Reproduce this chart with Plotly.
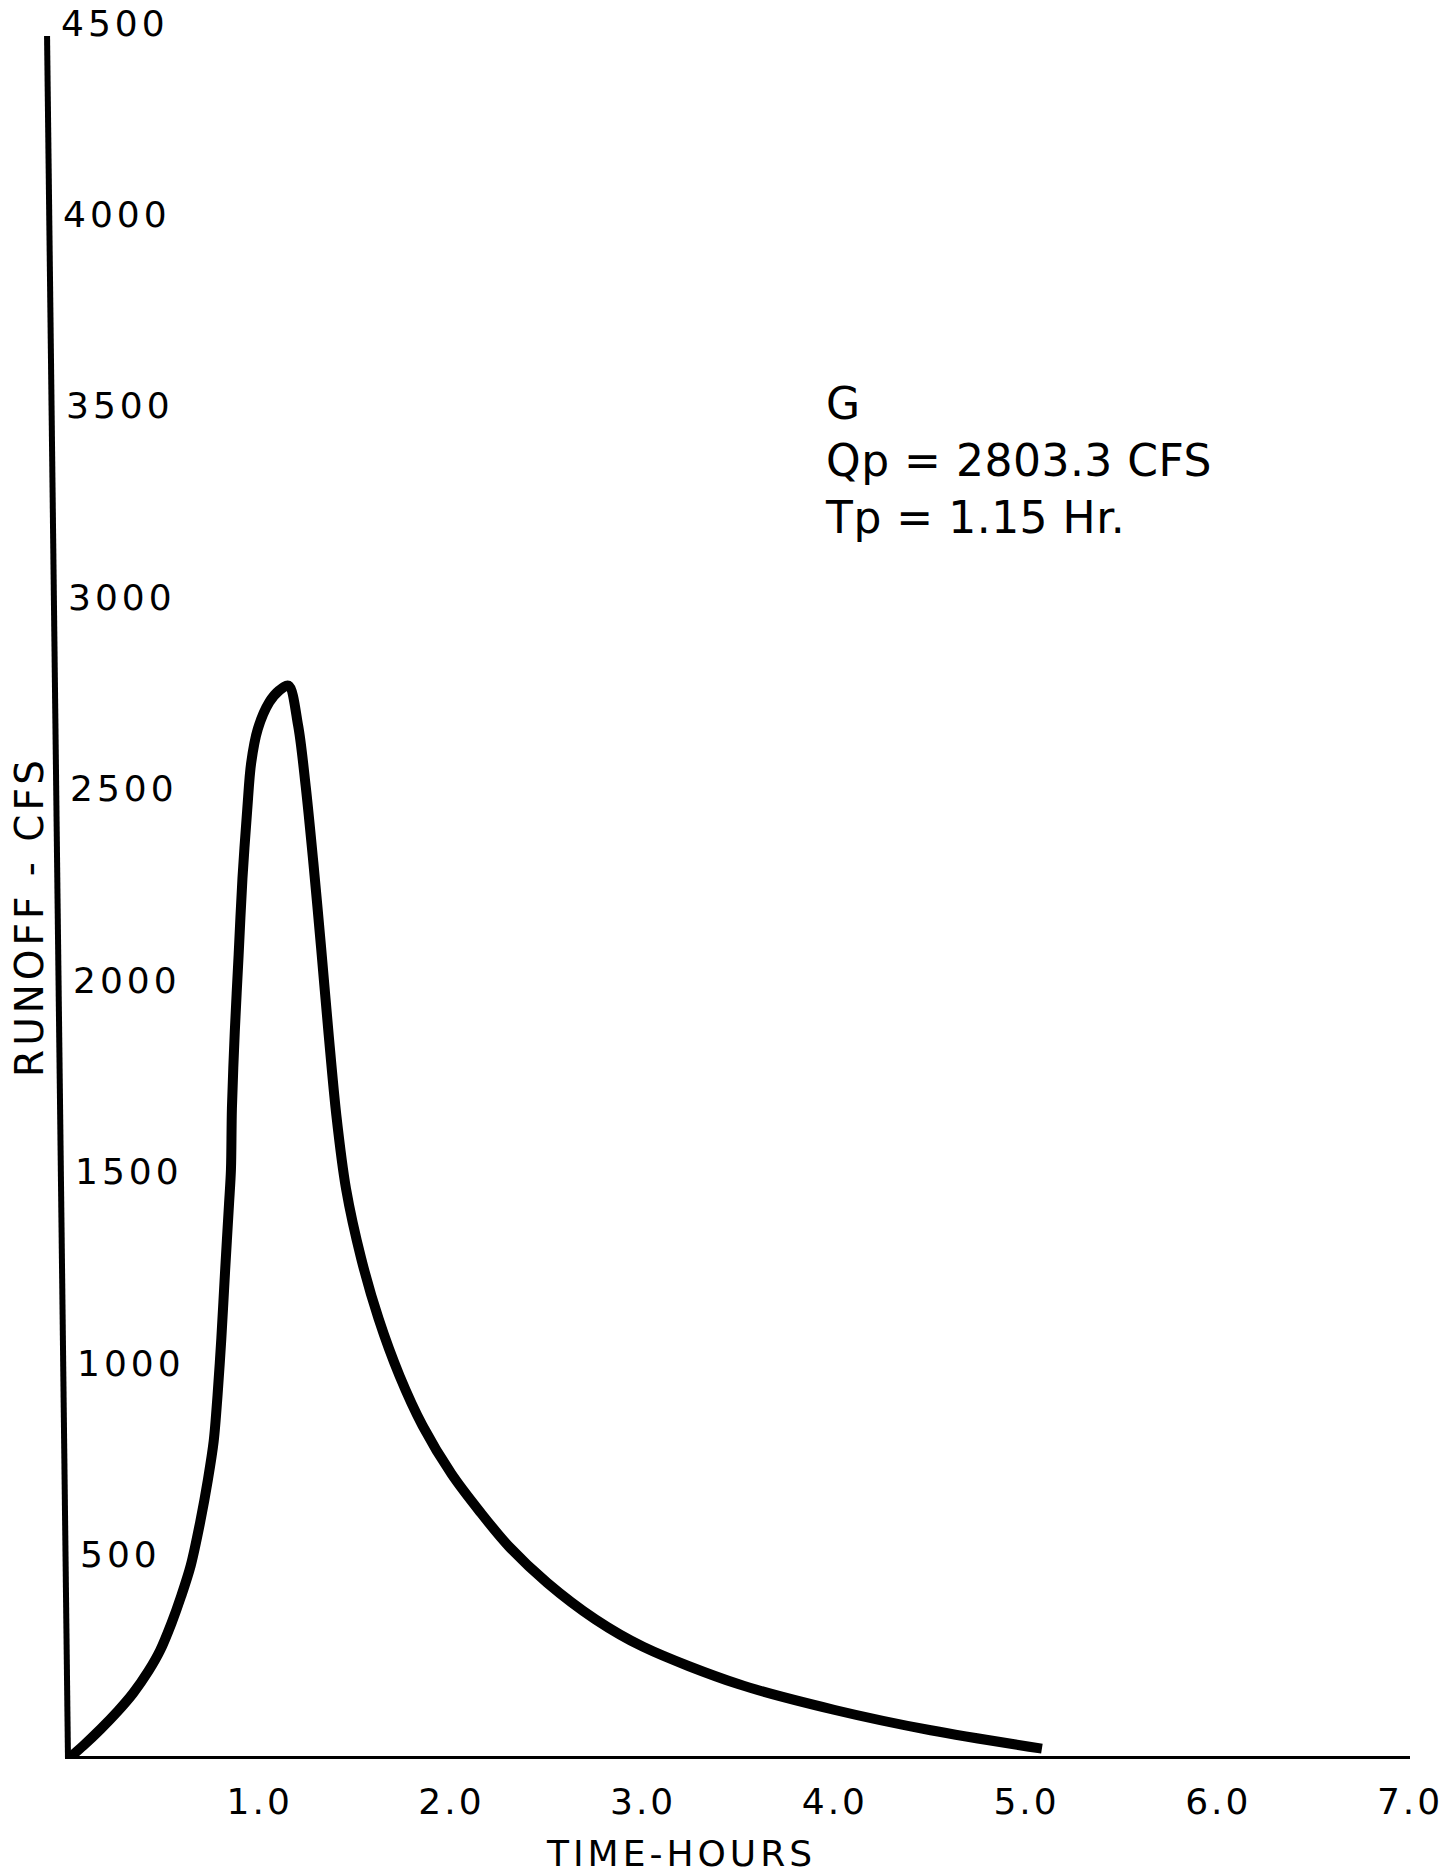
import plotly.graph_objects as go

# Unit hydrograph for sub-basin G: runoff (cfs) against time (hours)
time_hr = [0.0, 0.08, 0.17, 0.26, 0.34, 0.42, 0.48, 0.54, 0.59, 0.64, 0.69,
           0.73, 0.76, 0.78, 0.80, 0.82, 0.84, 0.85, 0.855, 0.87, 0.89, 0.91,
           0.935, 0.955, 0.99, 1.05, 1.10, 1.15,
           1.20, 1.24, 1.28, 1.32, 1.36, 1.40, 1.45, 1.53, 1.62, 1.73,
           1.85, 2.0, 2.15, 2.3, 2.5, 2.75, 3.0, 3.5, 4.0, 4.5, 5.08]
runoff_cfs = [0, 35, 78, 125, 172, 230, 283, 355, 425, 505, 620,
              730, 830, 950, 1100, 1280, 1450, 1540, 1700, 1900, 2100, 2300,
              2480, 2600, 2690, 2760, 2790, 2803.3,
              2700, 2540, 2340, 2120, 1890, 1680, 1490, 1306, 1150, 1000,
              870, 745, 645, 555, 460, 365, 293, 195, 128, 75, 27]

peak_name = "G"
peak_flow = 2803.3
peak_time = 1.15

x_ticks = [1, 2, 3, 4, 5, 6, 7]
x_tick_labels = ["1.0", "2.0", "3.0", "4.0", "5.0", "6.0", "7.0"]
y_ticks = [500, 1000, 1500, 2000, 2500, 3000, 3500, 4000, 4500]
y_tick_labels = ["500", "1000", "1500", "2000", "2500", "3000", "3500", "4000", "4500"]

x_title = "TIME-HOURS"
y_title = "RUNOFF - CFS"

FONT = "DejaVu Sans"
W, H = 1455, 1876
M_L, M_R, M_T, M_B = 68, 42, 36, 117
PLOT_W = W - M_L - M_R
PLOT_H = H - M_T - M_B
X_MAX, Y_MAX = 7, 4500
AXIS_LEAN_PX = 21  # hand-drawn vertical axis leans left toward the top


def spaced(text, px):
    return f'<span style="letter-spacing:{px}px">{text}</span>'


fig = go.Figure()
fig.add_trace(go.Scatter(
    x=time_hr, y=runoff_cfs, mode="lines",
    line=dict(color="black", width=10, shape="spline", smoothing=0.9),
    cliponaxis=False, hoverinfo="x+y",
))

shapes = [
    # horizontal axis
    dict(type="line", xref="x", yref="y", x0=0, y0=0, x1=X_MAX, y1=0,
         line=dict(color="black", width=6), layer="above"),
    # leaning vertical axis
    dict(type="line", xref="paper", yref="y", x0=0, y0=0,
         x1=-AXIS_LEAN_PX / PLOT_W, y1=Y_MAX,
         line=dict(color="black", width=6), layer="above"),
]

annotations = []
for v, lab in zip(y_ticks, y_tick_labels):
    annotations.append(dict(
        x=0, y=v, xref="x", yref="y", text=spaced(lab, 4), showarrow=False,
        xanchor="left", yanchor="middle",
        xshift=12 - AXIS_LEAN_PX * v / Y_MAX, yshift=13,
        font=dict(family=FONT, size=36, color="black"),
    ))

annotations.append(dict(
    x=0, y=0.4887, xref="paper", yref="paper", text=spaced(y_title, 4),
    textangle=-90, showarrow=False, xanchor="center", yanchor="middle",
    xshift=-38, font=dict(family=FONT, size=39, color="black"),
))
annotations.append(dict(
    x=3.196, y=-0.0551, xref="x", yref="paper", text=spaced(x_title, 4),
    showarrow=False, xanchor="center", yanchor="middle",
    font=dict(family=FONT, size=36, color="black"),
))
annotations.append(dict(
    x=3.94, y=3612, xref="x", yref="y",
    text=spaced(f"{peak_name}<br>Qp = {peak_flow} CFS<br>Tp = {peak_time} Hr.", 0.5),
    showarrow=False, xanchor="left", yanchor="top", align="left",
    font=dict(family=FONT, size=44, color="black"),
))

fig.update_layout(
    width=W, height=H,
    margin=dict(l=M_L, r=M_R, t=M_T, b=M_B, pad=0),
    paper_bgcolor="white", plot_bgcolor="white",
    showlegend=False,
    shapes=shapes, annotations=annotations,
    xaxis=dict(range=[0, X_MAX], showgrid=False, zeroline=False, showline=False,
               tickmode="array", tickvals=x_ticks,
               ticktext=[spaced(t, 3) for t in x_tick_labels],
               ticks="", ticklabelstandoff=18,
               tickfont=dict(family=FONT, size=36, color="black"),
               fixedrange=True),
    yaxis=dict(range=[0, Y_MAX], showgrid=False, zeroline=False, showline=False,
               showticklabels=False, ticks="", fixedrange=True),
)

fig.write_html("out.html")
